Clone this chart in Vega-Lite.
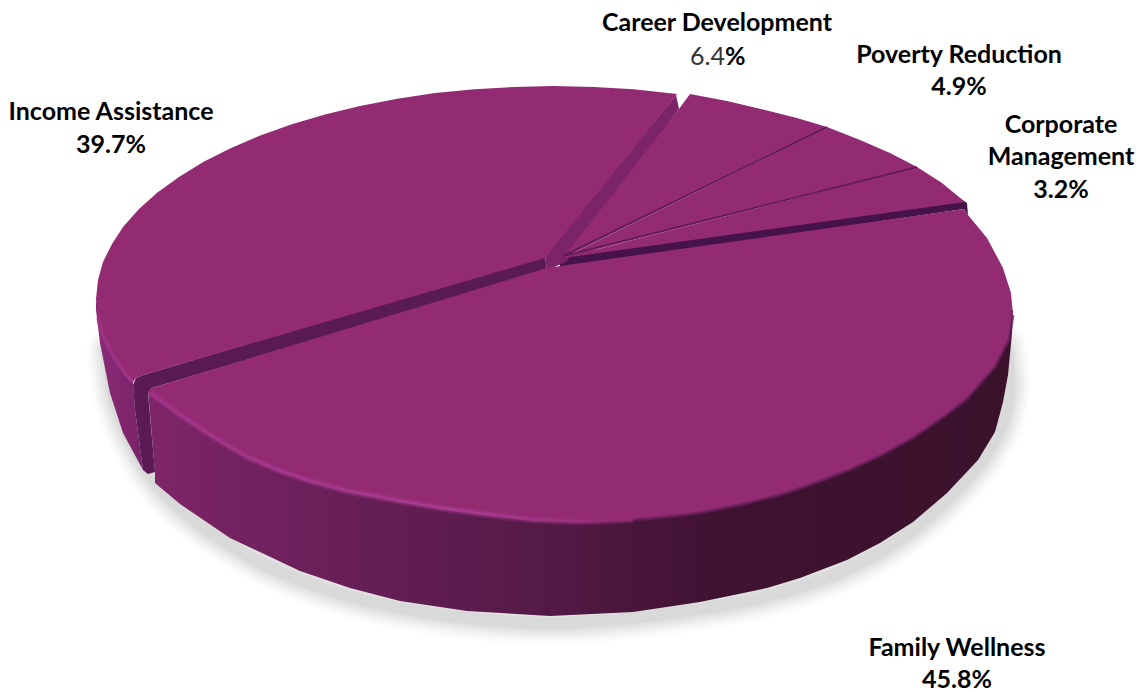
{
  "$schema": "https://vega.github.io/schema/vega-lite/v6.json",
  "width": 1141,
  "height": 692,
  "padding": 0,
  "autosize": {"type": "none"},
  "background": "white",
  "view": {"stroke": null},
  "config": {"axis": {"domain": false}},
  "datasets": {
    "shadowEdge": [
      {"x":108,"y":350},{"x":115,"y":400},{"x":133,"y":445},{"x":162,"y":490},{"x":212,"y":533},{"x":290,"y":576},{"x":400,"y":608},{"x":550,"y":623},{"x":700,"y":609},{"x":800,"y":587},{"x":880,"y":552},{"x":947,"y":500},{"x":995,"y":440},{"x":1009,"y":390},{"x":1005,"y":345}
    ],
    "incomeSide": [
      {"x":96,"y":299},{"x":103,"y":336},{"x":123.6,"y":371.8},{"x":133,"y":382},{"x":135,"y":410},{"x":143,"y":470},{"x":123,"y":433},{"x":110,"y":393},{"x":100,"y":343},{"x":96,"y":310}
    ],
    "familySide": [
      {"x":148,"y":390},{"x":1013,"y":310},{"x":1012,"y":333},{"x":1008,"y":375},{"x":1003,"y":402},{"x":995,"y":432},{"x":978,"y":460},{"x":947,"y":493},{"x":913,"y":522},{"x":880,"y":543},{"x":847,"y":560},{"x":800,"y":578},{"x":767,"y":588},{"x":700,"y":602},{"x":633,"y":612},{"x":550,"y":616},{"x":467,"y":611},{"x":400,"y":601},{"x":350,"y":588},{"x":300,"y":571},{"x":230,"y":538},{"x":180,"y":504},{"x":155,"y":483},{"x":155,"y":473}
    ],
    "cutFaces": [
      {"part":"income cut","x":143,"y":375},{"part":"income cut","x":545,"y":256},{"part":"income cut","x":547,"y":270},{"part":"income cut","x":152,"y":388},{"part":"income cut","x":148,"y":392},{"part":"income cut","x":151,"y":427},{"part":"income cut","x":155,"y":472},{"part":"income cut","x":148,"y":474},{"part":"income cut","x":143,"y":470},{"part":"income cut","x":135,"y":410},{"part":"income cut","x":133,"y":385},{"part":"income cut","x":136,"y":378},
      {"part":"right cut","x":560,"y":255},{"part":"right cut","x":958,"y":197},{"part":"right cut","x":967,"y":203},{"part":"right cut","x":968,"y":215},{"part":"right cut","x":964,"y":209},{"part":"right cut","x":560,"y":268}
    ],
    "lightFace": [
      {"x":545,"y":256},{"x":676,"y":95},{"x":679,"y":109},{"x":566,"y":262},{"x":547,"y":270}
    ],
    "slices": [
      {"slice":"Income Assistance","share":39.7,"x":545,"y":258},{"slice":"Income Assistance","share":39.7,"x":677,"y":94},{"slice":"Income Assistance","share":39.7,"x":633.5,"y":89.2},{"slice":"Income Assistance","share":39.7,"x":594,"y":87},{"slice":"Income Assistance","share":39.7,"x":554,"y":86},{"slice":"Income Assistance","share":39.7,"x":514,"y":87},{"slice":"Income Assistance","share":39.7,"x":474.5,"y":89.2},{"slice":"Income Assistance","share":39.7,"x":435,"y":93},{"slice":"Income Assistance","share":39.7,"x":397.4,"y":98.8},{"slice":"Income Assistance","share":39.7,"x":360,"y":106},{"slice":"Income Assistance","share":39.7,"x":325,"y":114.5},{"slice":"Income Assistance","share":39.7,"x":291,"y":124.5},{"slice":"Income Assistance","share":39.7,"x":259.6,"y":135.8},{"slice":"Income Assistance","share":39.7,"x":230,"y":148.5},{"slice":"Income Assistance","share":39.7,"x":203.2,"y":162.1},{"slice":"Income Assistance","share":39.7,"x":179,"y":177},{"slice":"Income Assistance","share":39.7,"x":157.4,"y":192.5},{"slice":"Income Assistance","share":39.7,"x":139,"y":209},{"slice":"Income Assistance","share":39.7,"x":123.6,"y":226.2},{"slice":"Income Assistance","share":39.7,"x":112,"y":244},{"slice":"Income Assistance","share":39.7,"x":103,"y":262},{"slice":"Income Assistance","share":39.7,"x":98,"y":280},{"slice":"Income Assistance","share":39.7,"x":96,"y":299},{"slice":"Income Assistance","share":39.7,"x":98,"y":318},{"slice":"Income Assistance","share":39.7,"x":103,"y":336},{"slice":"Income Assistance","share":39.7,"x":112,"y":354},{"slice":"Income Assistance","share":39.7,"x":123.6,"y":371.8},{"slice":"Income Assistance","share":39.7,"x":133,"y":382},{"slice":"Income Assistance","share":39.7,"x":136,"y":378},{"slice":"Income Assistance","share":39.7,"x":143,"y":375},
      {"slice":"Career Development","share":6.4,"x":563,"y":258},{"slice":"Career Development","share":6.4,"x":679,"y":109},{"slice":"Career Development","share":6.4,"x":690,"y":94},{"slice":"Career Development","share":6.4,"x":727,"y":101},{"slice":"Career Development","share":6.4,"x":765,"y":110},{"slice":"Career Development","share":6.4,"x":797,"y":118},{"slice":"Career Development","share":6.4,"x":827,"y":127},
      {"slice":"Poverty Reduction","share":4.9,"x":563,"y":258},{"slice":"Poverty Reduction","share":4.9,"x":827,"y":127},{"slice":"Poverty Reduction","share":4.9,"x":860,"y":140},{"slice":"Poverty Reduction","share":4.9,"x":890,"y":153},{"slice":"Poverty Reduction","share":4.9,"x":917,"y":167},
      {"slice":"Corporate Management","share":3.2,"x":563,"y":258},{"slice":"Corporate Management","share":3.2,"x":917,"y":167},{"slice":"Corporate Management","share":3.2,"x":942,"y":183},{"slice":"Corporate Management","share":3.2,"x":965,"y":202},
      {"slice":"Family Wellness","share":45.8,"x":567,"y":265},{"slice":"Family Wellness","share":45.8,"x":964,"y":209},{"slice":"Family Wellness","share":45.8,"x":968,"y":215},{"slice":"Family Wellness","share":45.8,"x":987,"y":238},{"slice":"Family Wellness","share":45.8,"x":1003,"y":268},{"slice":"Family Wellness","share":45.8,"x":1011,"y":293},{"slice":"Family Wellness","share":45.8,"x":1013,"y":315},{"slice":"Family Wellness","share":45.8,"x":1009,"y":340},{"slice":"Family Wellness","share":45.8,"x":995,"y":367},{"slice":"Family Wellness","share":45.8,"x":967,"y":399},{"slice":"Family Wellness","share":45.8,"x":945,"y":416},{"slice":"Family Wellness","share":45.8,"x":913,"y":438},{"slice":"Family Wellness","share":45.8,"x":880,"y":456},{"slice":"Family Wellness","share":45.8,"x":847,"y":471},{"slice":"Family Wellness","share":45.8,"x":810,"y":485},{"slice":"Family Wellness","share":45.8,"x":780,"y":495},{"slice":"Family Wellness","share":45.8,"x":740,"y":505},{"slice":"Family Wellness","share":45.8,"x":700,"y":513},{"slice":"Family Wellness","share":45.8,"x":667,"y":517},{"slice":"Family Wellness","share":45.8,"x":633,"y":520},{"slice":"Family Wellness","share":45.8,"x":583,"y":522},{"slice":"Family Wellness","share":45.8,"x":533,"y":520},{"slice":"Family Wellness","share":45.8,"x":483,"y":514},{"slice":"Family Wellness","share":45.8,"x":440,"y":508},{"slice":"Family Wellness","share":45.8,"x":400,"y":501},{"slice":"Family Wellness","share":45.8,"x":347,"y":491},{"slice":"Family Wellness","share":45.8,"x":313,"y":482},{"slice":"Family Wellness","share":45.8,"x":280,"y":471},{"slice":"Family Wellness","share":45.8,"x":247,"y":457},{"slice":"Family Wellness","share":45.8,"x":213,"y":437},{"slice":"Family Wellness","share":45.8,"x":180,"y":415},{"slice":"Family Wellness","share":45.8,"x":148,"y":392},{"slice":"Family Wellness","share":45.8,"x":152,"y":388},{"slice":"Family Wellness","share":45.8,"x":547,"y":268}
    ],
    "familyLitEdge": [
      {"x":150,"y":393},{"x":180,"y":415},{"x":213,"y":437},{"x":247,"y":457},{"x":280,"y":471},{"x":313,"y":482},{"x":347,"y":491},{"x":400,"y":501},{"x":440,"y":508},{"x":483,"y":514},{"x":533,"y":520},{"x":583,"y":522},{"x":633,"y":520}
    ],
    "familyDarkEdge": [
      {"x":633,"y":520},{"x":667,"y":517},{"x":700,"y":513},{"x":740,"y":505},{"x":780,"y":495},{"x":810,"y":485},{"x":847,"y":471},{"x":880,"y":456},{"x":913,"y":438},{"x":945,"y":416},{"x":967,"y":399},{"x":995,"y":367},{"x":1009,"y":340},{"x":1013,"y":315}
    ],
    "incomeLitEdge": [
      {"x":98,"y":318},{"x":103,"y":336},{"x":112,"y":354},{"x":123.6,"y":371.8},{"x":133,"y":382}
    ],
    "labels": [
      {"text":"Career Development","x":717,"y":23},
      {"text":"Poverty Reduction","x":959,"y":55},
      {"text":"4.9%","x":959,"y":87},
      {"text":"Corporate","x":1061,"y":125},
      {"text":"Management","x":1061,"y":157},
      {"text":"3.2%","x":1061,"y":190},
      {"text":"Income Assistance","x":111,"y":112},
      {"text":"39.7%","x":111,"y":145},
      {"text":"Family Wellness","x":957,"y":648},
      {"text":"45.8%","x":957,"y":680}
    ]
  },
  "encoding": {
    "x": {"field": "x", "type": "quantitative", "scale": {"domain": [0, 1141]}, "axis": null},
    "y": {"field": "y", "type": "quantitative", "scale": {"domain": [692, 0]}, "axis": null},
    "order": {"value": null}
  },
  "layer": [
    {"data": {"name": "shadowEdge"}, "mark": {"type": "line", "interpolate": "cardinal", "stroke": "#000000", "strokeWidth": 42, "opacity": 0.014, "strokeCap": "round"}},
    {"data": {"name": "shadowEdge"}, "mark": {"type": "line", "interpolate": "cardinal", "stroke": "#000000", "strokeWidth": 36, "opacity": 0.018, "strokeCap": "round"}},
    {"data": {"name": "shadowEdge"}, "mark": {"type": "line", "interpolate": "cardinal", "stroke": "#000000", "strokeWidth": 30, "opacity": 0.022, "strokeCap": "round"}},
    {"data": {"name": "shadowEdge"}, "mark": {"type": "line", "interpolate": "cardinal", "stroke": "#000000", "strokeWidth": 24, "opacity": 0.028, "strokeCap": "round"}},
    {"data": {"name": "shadowEdge"}, "mark": {"type": "line", "interpolate": "cardinal", "stroke": "#000000", "strokeWidth": 18, "opacity": 0.03, "strokeCap": "round"}},
    {"data": {"name": "shadowEdge"}, "mark": {"type": "line", "interpolate": "cardinal", "stroke": "#000000", "strokeWidth": 12, "opacity": 0.03, "strokeCap": "round"}},
    {
      "data": {"name": "incomeSide"},
      "mark": {"type": "line", "strokeWidth": 0, "fill": {"gradient": "linear", "x1": 0, "x2": 1, "y1": 0, "y2": 0, "stops": [{"offset": 0, "color": "#8a2a76"}, {"offset": 1, "color": "#7a2368"}]}}
    },
    {
      "data": {"name": "familySide"},
      "mark": {"type": "line", "strokeWidth": 0, "fill": {"gradient": "linear", "x1": 0, "x2": 1, "y1": 0, "y2": 0, "stops": [{"offset": 0, "color": "#7e2568"}, {"offset": 0.2, "color": "#6a2059"}, {"offset": 0.45, "color": "#551a47"}, {"offset": 0.66, "color": "#3f1231"}, {"offset": 1, "color": "#3b122c"}]}}
    },
    {
      "data": {"name": "cutFaces"},
      "mark": {"type": "line", "strokeWidth": 0},
      "encoding": {
        "detail": {"field": "part"},
        "fill": {"field": "part", "type": "nominal", "scale": {"domain": ["income cut", "right cut"], "range": ["#5a1a54", "#45134a"]}, "legend": null}
      }
    },
    {"data": {"name": "lightFace"}, "mark": {"type": "line", "strokeWidth": 0, "fill": "#7c2468"}},
    {
      "data": {"name": "slices"},
      "mark": {"type": "line", "strokeWidth": 0, "fill": "#932b73"},
      "encoding": {"detail": {"field": "slice"}}
    },
    {
      "data": {"name": "familyLitEdge"},
      "mark": {"type": "line", "strokeWidth": 7, "opacity": 0.3, "stroke": {"gradient": "linear", "x1": 0, "x2": 1, "y1": 0, "y2": 0, "stops": [{"offset": 0, "color": "#a5368c"}, {"offset": 0.65, "color": "#b0409a"}, {"offset": 1, "color": "#932b73"}]}}
    },
    {
      "data": {"name": "familyLitEdge"},
      "mark": {"type": "line", "strokeWidth": 3, "opacity": 0.75, "stroke": {"gradient": "linear", "x1": 0, "x2": 1, "y1": 0, "y2": 0, "stops": [{"offset": 0, "color": "#a5368c"}, {"offset": 0.65, "color": "#b0409a"}, {"offset": 1, "color": "#932b73"}]}}
    },
    {"data": {"name": "familyDarkEdge"}, "mark": {"type": "line", "strokeWidth": 3, "stroke": "#66205a", "opacity": 0.7}},
    {"data": {"name": "incomeLitEdge"}, "mark": {"type": "line", "strokeWidth": 4, "stroke": "#a5368c", "opacity": 0.65}},
    {
      "data": {"values": [
        {"edge": "career-poverty", "x": 563, "y": 256},
        {"edge": "career-poverty", "x": 827, "y": 127},
        {"edge": "poverty-corporate", "x": 563, "y": 256},
        {"edge": "poverty-corporate", "x": 917, "y": 167}
      ]},
      "mark": {"type": "line", "strokeWidth": 1.5, "stroke": "#5a1a54"},
      "encoding": {"detail": {"field": "edge"}}
    },
    {
      "data": {"name": "labels"},
      "mark": {"type": "text", "font": "Lato", "fontWeight": "bold", "fontSize": 25, "fill": "#000000", "align": "center", "baseline": "middle"},
      "encoding": {"text": {"field": "text"}}
    },
    {
      "data": {"values": [{"text": "6.4", "x": 725, "y": 57}]},
      "mark": {"type": "text", "font": "Lato", "fontWeight": "normal", "fontSize": 25, "fill": "#333333", "align": "right", "baseline": "middle"},
      "encoding": {"text": {"field": "text"}}
    },
    {
      "data": {"values": [{"text": "%", "x": 725, "y": 57}]},
      "mark": {"type": "text", "font": "Lato", "fontWeight": "bold", "fontSize": 25, "fill": "#000000", "align": "left", "baseline": "middle"},
      "encoding": {"text": {"field": "text"}}
    }
  ]
}
